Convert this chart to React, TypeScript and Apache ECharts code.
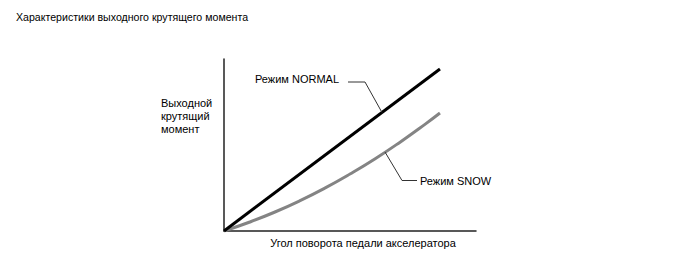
import React, { useEffect, useRef } from "react";
import * as echarts from "echarts";

const titleText = "Характеристики выходного крутящего момента";
const yAxisName = "Выходной\nкрутящий\nмомент";
const xAxisName = "Угол поворота педали акселератора";
const normalName = "Режим NORMAL";
const snowName = "Режим SNOW";

// x: accelerator pedal angle (relative units 0..100), y: output torque (relative units 0..100)
const normalData: [number, number][] = [
  [0, 0],
  [85.7, 94.2],
];
const snowX = [0, 10, 20, 30, 40, 50, 60, 70, 80, 85.7];
const snowY = [0, 5.1, 10.9, 17.5, 24.9, 33.1, 42.0, 51.8, 62.3, 68.6];

// anchor points of the leader lines (data units)
const normalAnchor: [number, number] = [62.7, 68.9];
const snowAnchor: [number, number] = [63.9, 45.9];

const FONT = "'Liberation Sans', Arial, sans-serif";

export default function App() {
  const ref = useRef<HTMLDivElement>(null);
  useEffect(() => {
    if (!ref.current) return;
    const chart = echarts.init(ref.current, undefined, { renderer: "svg" });
    chart.setOption({
      animation: false,
      backgroundColor: "#ffffff",
      title: {
        text: titleText,
        left: 11,
        top: 6,
        textStyle: { fontSize: 10.6, fontWeight: "normal", color: "#000", fontFamily: FONT },
      },
      grid: { left: 224, top: 59, right: 212, bottom: 38, containLabel: false },
      xAxis: {
        type: "value",
        min: 0,
        max: 100,
        axisLine: { show: true, onZero: false, lineStyle: { color: "#222", width: 1.5 } },
        axisTick: { show: false },
        axisLabel: { show: false },
        splitLine: { show: false },
      },
      yAxis: {
        type: "value",
        min: 0,
        max: 100,
        axisLine: { show: true, onZero: false, lineStyle: { color: "#222", width: 1.5 } },
        axisTick: { show: false },
        axisLabel: { show: false },
        splitLine: { show: false },
      },
      series: [
        {
          type: "line",
          name: normalName,
          data: normalData,
          showSymbol: false,
          lineStyle: { color: "#000", width: 3 },
          z: 3,
        },
        {
          type: "line",
          name: snowName,
          data: snowX.map((x, i) => [x, snowY[i]]),
          showSymbol: false,
          smooth: true,
          lineStyle: { color: "#848484", width: 3 },
          z: 2,
        },
      ],
    });
    const na = chart.convertToPixel({ gridIndex: 0 }, normalAnchor) as number[];
    const sa = chart.convertToPixel({ gridIndex: 0 }, snowAnchor) as number[];
    const textStyle = { fill: "#000", fontSize: 11, fontFamily: FONT };
    chart.setOption({
      graphic: [
        {
          type: "text",
          left: 161,
          top: 96,
          style: { ...textStyle, text: yAxisName, lineHeight: 13 },
        },
        {
          type: "text",
          x: 363,
          y: 243,
          style: { ...textStyle, text: xAxisName, align: "center", verticalAlign: "middle" },
        },
        {
          type: "text",
          x: 255,
          y: 79,
          style: { ...textStyle, text: normalName, align: "left", verticalAlign: "middle" },
        },
        {
          type: "text",
          x: 420,
          y: 181,
          style: { ...textStyle, text: snowName, align: "left", verticalAlign: "middle" },
        },
        {
          type: "polyline",
          shape: { points: [[348, 82], [365, 82], [na[0], na[1]]] },
          style: { stroke: "#333", lineWidth: 1, fill: "none" },
          z: 10,
        },
        {
          type: "polyline",
          shape: { points: [[sa[0], sa[1]], [402, 180.5], [417, 180.5]] },
          style: { stroke: "#333", lineWidth: 1, fill: "none" },
          z: 10,
        },
      ],
    });
    return () => chart.dispose();
  }, []);
  return (
    <div
      ref={ref}
      style={{ position: "fixed", left: 0, top: 0, width: 688, height: 269, background: "#fff" }}
    />
  );
}
